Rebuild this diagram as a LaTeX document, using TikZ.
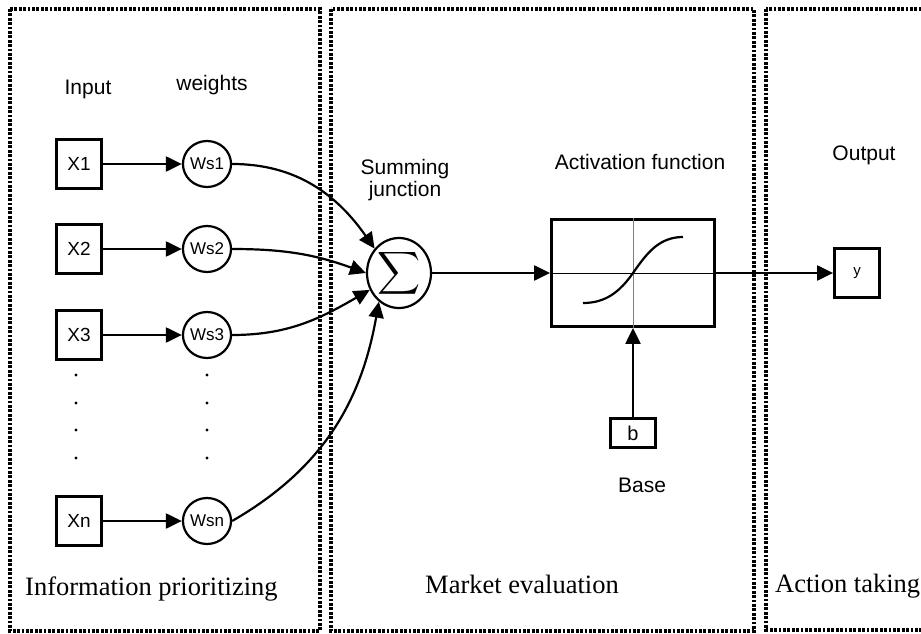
\documentclass[tikz,border=0pt]{standalone}
\usepackage{amsmath}
\usepackage{fontspec}
\setmainfont{Liberation Serif}
\setsansfont{Liberation Sans}
\usetikzlibrary{arrows.meta,shapes.geometric}
\tikzset{
  inbox/.style={draw,line width=2.8pt,minimum width=45pt,minimum height=49pt,inner sep=0pt,font=\sffamily\fontsize{19}{19}\selectfont},
  wnode/.style={draw,ellipse,line width=2.2pt,minimum width=39pt,minimum height=46pt,inner sep=0pt,font=\sffamily\fontsize{17}{17}\selectfont},
  arr/.style={-{Triangle[length=16pt,width=15pt]},line width=2.2pt},
  lab/.style={font=\sffamily\fontsize{21}{22}\selectfont,inner sep=0pt},
  plab/.style={font=\fontsize{26.5}{28}\selectfont,inner sep=0pt},
  panel/.style={line width=3.2pt,dash pattern=on 2.8pt off 1.6pt},
}
\begin{document}
\begin{tikzpicture}[x=1pt,y=1pt]
  \useasboundingbox (0,0) rectangle (921,-634);
  \draw[panel] (10,-9) rectangle (320,-631);
  \draw[panel] (331,-9) rectangle (754,-631);
  \draw[panel] (766,-9) rectangle (940,-630);

  \node[lab,anchor=base] (lin) at (88,-94) {Input};
  \node[lab,anchor=base] (lw) at (212,-91) {weights};
  \node[lab,align=center,anchor=north] (lsum) at (405,-159) {Summing\\junction};
  \node[lab,anchor=base] (lact) at (640,-169) {Activation function};
  \node[lab,anchor=base] (lout) at (864,-160) {Output};
  \node[lab,anchor=base] (lbase) at (642,-492) {Base};

  \node[inbox] (x1) at (79,-164) {X1};
  \node[inbox] (x2) at (79,-249) {X2};
  \node[inbox] (x3) at (79,-335) {X3};
  \node[inbox] (xn) at (79,-521) {Xn};
  \node[wnode] (w1) at (207,-164) {Ws1};
  \node[wnode] (w2) at (207,-249) {Ws2};
  \node[wnode] (w3) at (207,-335) {Ws3};
  \node[wnode] (wn) at (207,-521) {Wsn};
  \foreach \yy in {375,403,430,458} {
    \fill (76,-\yy) circle (1.7pt);
    \fill (207,-\yy) circle (1.7pt);
  }

  \node[draw,ellipse,line width=2.2pt,minimum width=64pt,minimum height=70pt,inner sep=0pt] (sum) at (399,-273) {\fontsize{24}{24}\selectfont\scalebox{1.2}{$\displaystyle\sum$}};
  \node[draw,line width=2.8pt,minimum width=163pt,minimum height=107pt] (act) at (633,-273) {};
  \draw[gray,line width=0.8pt] (act.north) -- (act.south);
  \draw[line width=1pt] (act.west) -- (act.east);
  \draw[line width=2.2pt] (583,-303) to[out=0,in=235] (633,-273) to[out=55,in=180] (683,-237);
  \node[inbox,minimum height=29pt,font=\sffamily\fontsize{20}{20}\selectfont] (bb) at (633,-433) {b};
  \node[inbox,font=\sffamily\fontsize{15}{15}\selectfont] (yout) at (857,-273) {y};

  \draw[arr] (x1) -- (w1); \draw[arr] (x2) -- (w2); \draw[arr] (x3) -- (w3); \draw[arr] (xn) -- (wn);
  \draw[arr] (w1.east) to[out=0,in=125] (sum.135);
  \draw[arr] (w2.east) to[out=0,in=160] (sum.west);
  \draw[arr] (w3.east) to[out=0,in=210] (sum.210);
  \draw[arr] (wn.east) to[out=30,in=260] (sum.235);
  \draw[arr] (sum) -- (act);
  \draw[arr] (act) -- (yout);
  \draw[arr] (bb) -- (act);

  \node[plab,anchor=base west] (pinfo) at (25,-595) {Information prioritizing};
  \node[plab,anchor=base] (pmark) at (522,-593) {Market evaluation};
  \node[plab,anchor=base west] (pact) at (775,-592) {Action taking};
\end{tikzpicture}
\end{document}
